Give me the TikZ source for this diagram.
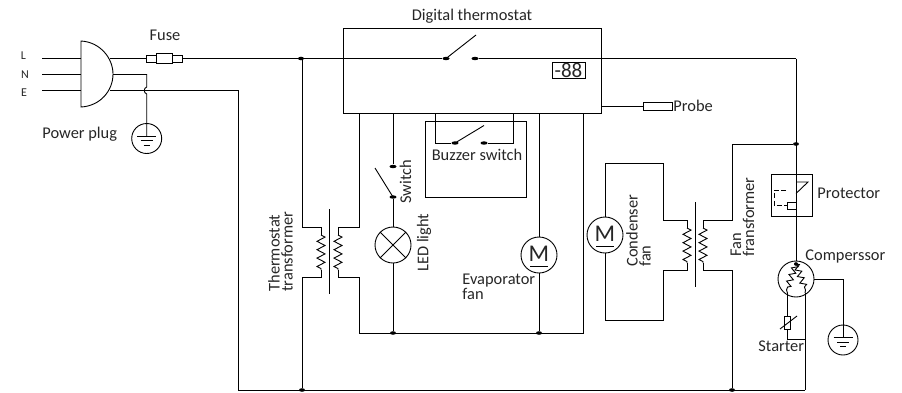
\documentclass[tikz,border=0pt]{standalone}
\usepackage{fontspec}
\setmainfont{Carlito}
\usetikzlibrary{shapes.geometric,decorations.pathmorphing}
\newcommand{\txtsize}{\fontsize{16.4}{13}\selectfont}
\tikzset{
  every path/.style={line width=0.9pt,line join=miter},
  lbl/.style={inner sep=0pt,font=\txtsize,text=black!85},
  rot/.style={lbl,rotate=90,anchor=west,align=left},
  tiny/.style={inner sep=0pt,font=\fontsize{12}{12}\selectfont,text=black!85},
  dot/.style={ellipse,fill=black,minimum width=6pt,minimum height=3.6pt,inner sep=0pt},
  contact/.style={ellipse,fill=black,minimum width=7pt,minimum height=3.4pt,inner sep=0pt},
  round18/.style={circle,draw,minimum size=36pt,inner sep=0pt},
  earth/.style={circle,draw,minimum size=30pt,inner sep=0pt},
  boxed/.style={draw,inner sep=0pt},
  zz/.style={decorate,decoration={zigzag,segment length=8.4pt,amplitude=4pt}},
  zs/.style={decorate,decoration={zigzag,segment length=7pt,amplitude=3pt}}
}
\newcommand{\earthbars}[1]{%
  \draw ([xshift=-9.5pt,yshift=2.5pt]#1.center) -- ([xshift=9.5pt,yshift=2.5pt]#1.center);
  \draw ([xshift=-6pt,yshift=-2pt]#1.center) -- ([xshift=6pt,yshift=-2pt]#1.center);
  \draw ([xshift=-3pt,yshift=-6.5pt]#1.center) -- ([xshift=3pt,yshift=-6.5pt]#1.center);
}
\newcommand{\motorM}[1]{%
  \node[inner sep=0pt,font=\fontsize{24}{24}\selectfont,text=black!85] at ([yshift=1.5pt]#1.center) {M};
  \draw ([xshift=-9pt,yshift=-11pt]#1.center) -- ([xshift=9pt,yshift=-11pt]#1.center);
}
\begin{document}
\begin{tikzpicture}[x=1pt,y=-1pt]
\useasboundingbox (0,0) rectangle (902,392);
% --- plug
\coordinate (pt) at (81,41); \coordinate (pb) at (81,107);
\draw (pt) .. controls (100,42) and (113,58) .. (113,74) .. controls (113,91) and (100,106) .. (pb) -- cycle;
\coordinate (Li) at (42,58.5); \coordinate (Ni) at (42,74.5); \coordinate (Ei) at (42,90.3);
\coordinate (Lp) at (81,58.5); \coordinate (Np) at (81,74.5); \coordinate (Ep) at (81,90.3);
\draw (Li) -- (Lp); \draw (Ni) -- (Np); \draw (Ei) -- (Ep);
\node[tiny] (tL) at (23.5,56) {L};
\node[tiny] (tN) at (25,75) {N};
\node[tiny] (tE) at (24,93) {E};
\node[lbl,anchor=west] (tPlug) at (42,134) {Power plug};
% --- fuse
\node[boxed,minimum width=36pt,minimum height=7pt] (fuseo) at (164,58.5) {};
\node[boxed,fill=white,minimum width=16pt,minimum height=9.5pt] (fusei) at (164,58.5) {};
\node[lbl] (tFuse) at (165,35) {Fuse};
\coordinate (Lo) at (110,58.5);
\draw (Lo) -- (fuseo.west);
% --- earth left
\node[earth] (g1) at (146.7,138.5) {};
\earthbars{g1}
\coordinate (n1) at (113,74.5); \coordinate (n2) at (146.7,74.5);
\coordinate (h1) at (146.7,87); \coordinate (h2) at (146.7,94);
\coordinate (g1e) at (146.7,136);
\draw (n1) -- (n2) -- (h1) .. controls (143.5,88) and (143.5,93) .. (h2) -- (g1e);
\coordinate (Eo) at (110,90.3); \coordinate (Ec) at (238,90.3); \coordinate (Eb) at (238,390);
\draw (Eo) -- (Ec) -- (Eb);
% --- bottom rail
\coordinate (br) at (805,390);
\draw (Eb) -- (br);
\node[dot] (dBotA) at (302,390) {};
\node[dot] (dBotB) at (732,390) {};
% --- thermostat
\node[boxed,minimum width=258pt,minimum height=85pt] (th) at (472,70.5) {};
\node[lbl] (tTh) at (472,16) {Digital thermostat};
\node[contact] (c1) at (446,58.5) {};
\node[contact] (c2) at (475,58.5) {};
\coordinate (bl) at (476,35);
\draw (c1.center) -- (bl);
\node[dot] (dL) at (301,58.5) {};
\coordinate (Rr) at (796,58.5);
\draw (fuseo.east) -- (dL) -- (c1);
\draw (c2) -- (Rr);
\draw[line width=1.6pt] (c2) -- (496,58.5);
\node[boxed,minimum width=33pt,minimum height=16pt,font=\fontsize{21}{21}\selectfont,text=black!85] (disp) at (568.5,70.5) {-88};
% probe
\node[boxed,minimum width=29pt,minimum height=8pt] (probe) at (657.5,106) {};
\node[lbl,anchor=west] (tProbe) at (673,106) {Probe};
\draw (th.east |- probe) -- (probe);
% --- thermostat transformer
\coordinate (a0) at (302,58.5);
\coordinate (a1) at (302,227); \coordinate (a2) at (321,227); \coordinate (a3) at (321,235);
\coordinate (a4) at (321,270); \coordinate (a5) at (321,277); \coordinate (a6) at (302,277);
\draw (a0) -- (a1) -- (a2) -- (a3);
\draw[zz] (a3) -- (a4);
\draw (a4) -- (a5) -- (a6) -- (dBotA);
\coordinate (b1) at (359,113); \coordinate (b2) at (359,227); \coordinate (b3) at (338,227); \coordinate (b4) at (338,235);
\coordinate (b5) at (338,270); \coordinate (b6) at (338,277); \coordinate (b7) at (359,277); \coordinate (b8) at (359,333);
\draw (b1) -- (b2) -- (b3) -- (b4);
\draw[zz] (b4) -- (b5);
\draw (b5) -- (b6) -- (b7) -- (b8);
\coordinate (k1) at (329.5,209); \coordinate (k2) at (329.5,294);
\draw (k1) -- (k2);
\node[rot] (tTT) at (280.5,292) {Thermostat\\transformer};
% --- common return
\coordinate (r1) at (583,113); \coordinate (r2) at (583,333);
\draw (b8) -- (r2) -- (r1);
\node[dot] (dr1) at (393,333) {};
\node[dot] (dr2) at (539,333) {};
% --- switch and lamp
\node[contact,minimum width=7pt] (s1) at (393,166.5) {};
\node[contact] (s2) at (393,197) {};
\coordinate (st) at (375,168);
\node[round18] (lamp) at (393,245) {};
\draw (393,113) -- (s1);
\draw (st) -- (s2.center);
\draw (s2) -- (lamp);
\draw (lamp) -- (dr1);
\draw (lamp.north west) -- (lamp.south east);
\draw (lamp.north east) -- (lamp.south west);
\node[rot] (tSw) at (405.5,204) {Switch};
\node[rot] (tLed) at (424,272) {LED light};
% --- buzzer
\node[boxed,minimum width=101pt,minimum height=76pt] (bz) at (475.5,159) {};
\node[contact] (z1) at (455,143) {};
\node[contact] (z2) at (484,143) {};
\coordinate (zb) at (484,125.5);
\draw (435,113) -- (435,143) -- (z1);
\draw (513,113) -- (513,143) -- (z2);
\draw (z1.center) -- (zb);
\node[lbl] (tBz) at (477,155) {Buzzer switch};
% --- evaporator fan
\node[round18] (mE) at (539,255) {};
\motorM{mE}
\draw (539,113) -- (mE);
\draw (mE) -- (dr2);
\node[lbl,anchor=north west,align=left] (tEv) at (462,274) {Evaporator\\fan};
% --- condenser fan + transformer
\node[round18] (mC) at (605,235) {};
\motorM{mC}
\coordinate (c3) at (605,163); \coordinate (c4) at (663,163); \coordinate (c5) at (663,220); \coordinate (c6) at (687,220); \coordinate (c7) at (687,228);
\coordinate (c8) at (687,263); \coordinate (c9) at (687,270); \coordinate (c10) at (663,270); \coordinate (c11) at (663,320); \coordinate (c12) at (605,320);
\draw (mC) -- (c3) -- (c4) -- (c5) -- (c6) -- (c7);
\draw[zz] (c7) -- (c8);
\draw (c8) -- (c9) -- (c10) -- (c11) -- (c12) -- (mC);
\coordinate (k3) at (695.5,202); \coordinate (k4) at (695.5,287);
\draw (k3) -- (k4);
\coordinate (f1) at (703,220); \coordinate (f2) at (703,228); \coordinate (f3) at (703,263); \coordinate (f4) at (703,270);
\coordinate (f5) at (732,270); \coordinate (f6) at (732,220); \coordinate (f7) at (732,144);
\node[dot] (dF) at (796,144) {};
\draw (dF) -- (f7) -- (f6) -- (f1) -- (f2);
\draw[zz] (f2) -- (f3);
\draw (f3) -- (f4) -- (f5) -- (dBotB);
\node[rot] (tCF) at (638.5,267) {Condenser\\fan};
\node[rot] (tFT) at (742.5,257) {Fan\\fransformer};
% --- protector
\node[boxed,minimum width=41pt,minimum height=42pt] (prot) at (791.5,195) {};
\node[boxed,minimum width=9pt,minimum height=7pt] (pr2) at (791.5,205.5) {};
\coordinate (p1) at (796,193.5); \coordinate (p2) at (808,182); \coordinate (p3) at (796,182);
\draw (p1) -- (p2) -- (p3);
\draw[dashed,dash pattern=on 5pt off 2.5pt] (786,190) -- (774,190) -- (774,205.5) -- (787,205.5);
\node[lbl,anchor=west] (tPr) at (817,193) {Protector};
% --- compressor
\node[round18] (cp) at (796,279) {};
\draw (Rr) -- (cp.north);
\node[dot,minimum width=4pt] (cpd) at (796,264) {};
\coordinate (w1) at (787.5,293); \coordinate (w2) at (805,293);
\coordinate (w5) at (786.5,290); \coordinate (w6) at (805.5,290);
\draw[zs] (cpd.center) -- (w5);
\draw[zs] (cpd.center) -- (w6);
\draw (w5) -- (w1); \draw (w6) -- (w2);
\node[lbl,anchor=west] (tCp) at (805,256) {Comperssor};
% --- starter
\node[boxed,minimum width=5.5pt,minimum height=13pt] (rs) at (787.5,322.5) {};
\coordinate (w3) at (787.5,339); \coordinate (w4) at (805,339);
\draw (w1) -- (rs);
\draw (rs) -- (w3) -- (w4);
\draw (w2) -- (br);
\coordinate (sl1) at (780,329); \coordinate (sl2) at (797,316);
\draw (sl1) -- (sl2);
\node[lbl,anchor=west] (tSt) at (758,346) {Starter};
% --- earth right
\node[earth] (g2) at (843,340) {};
\earthbars{g2}
\coordinate (g2e) at (843,337.5);
\coordinate (g2c) at (843,279);
\draw (cp.east) -- (g2c) -- (g2e);
\end{tikzpicture}
\end{document}
